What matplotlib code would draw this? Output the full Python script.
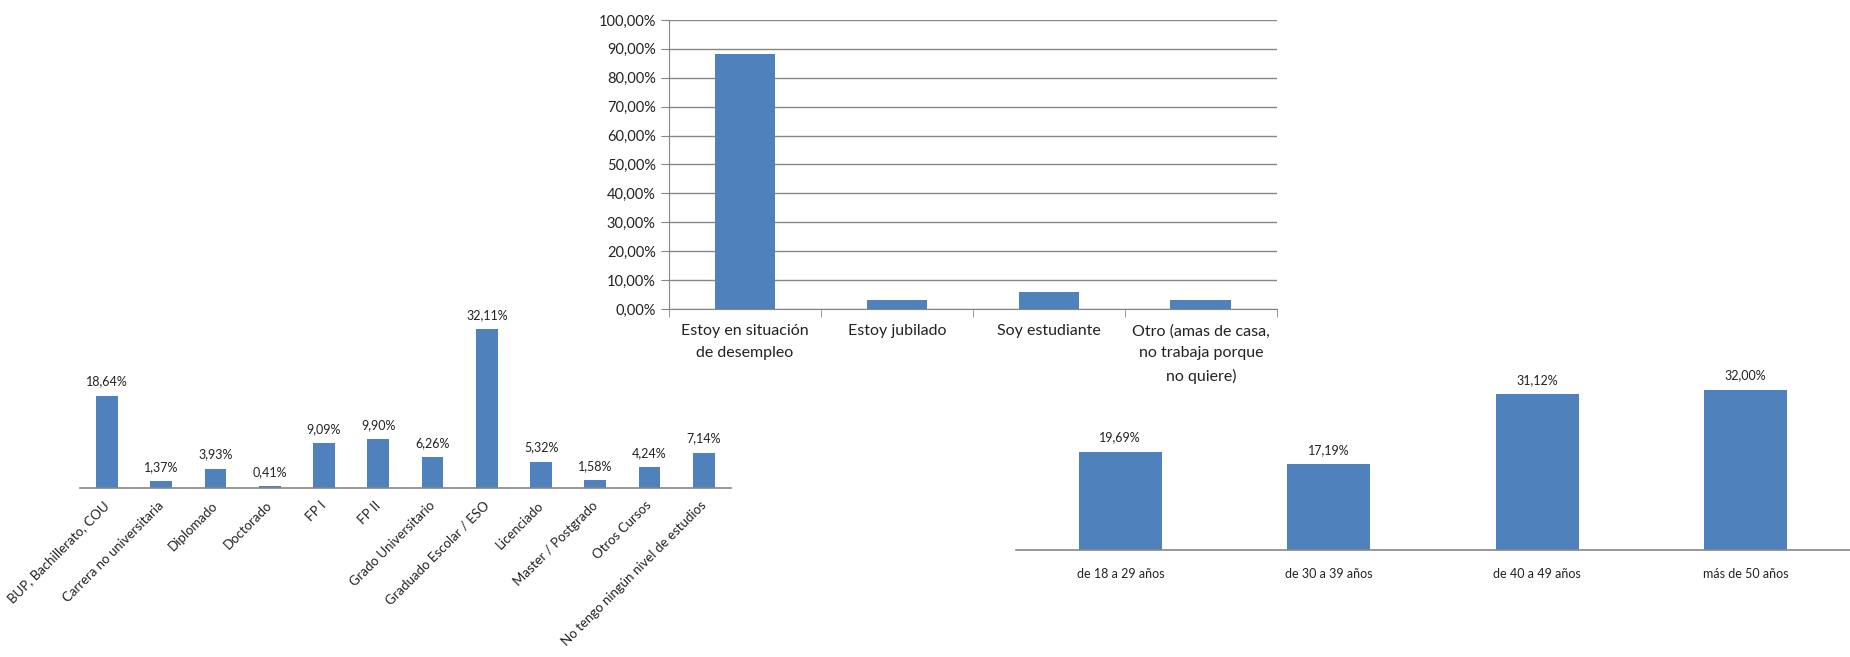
import numpy as np
import matplotlib
matplotlib.use('Agg')
from matplotlib import pyplot as plt
from matplotlib.ticker import FuncFormatter
from matplotlib.transforms import ScaledTranslation

plt.rcParams['font.family'] = ['Lato', 'DejaVu Sans']

# situación laboral
sit_labels = ['Estoy en situación\nde desempleo', 'Estoy jubilado', 'Soy estudiante',
              'Otro (amas de casa,\nno trabaja porque\nno quiere)']
sit_values = [88.24, 2.94, 5.88, 2.94]

# nivel de estudios
est_labels = ['BUP, Bachillerato, COU', 'Carrera no universitaria', 'Diplomado', 'Doctorado',
              'FP I', 'FP II', 'Grado Universitario', 'Graduado Escolar / ESO', 'Licenciado',
              'Master / Postgrado', 'Otros Cursos', 'No tengo ningún nivel de estudios']
est_values = [18.64, 1.37, 3.93, 0.41, 9.09, 9.90, 6.26, 32.11, 5.32, 1.58, 4.24, 7.14]

# edad
edad_labels = ['de 18 a 29 años', 'de 30 a 39 años', 'de 40 a 49 años', 'más de 50 años']
edad_values = [19.69, 17.19, 31.12, 32.00]

BLUE = '#4F81BD'
GRAY = '#868686'
TXT = '#222222'


def pct(v, decimals=2):
    return f'{v:.{decimals}f}%'.replace('.', ',')


def label_bars(ax, x, values, size=8.5):
    for xi, v in zip(x, values):
        ax.annotate(pct(v), (xi, v), xytext=(0, 6), textcoords='offset points',
                    ha='center', va='bottom', fontsize=size, color=TXT)


def plain_axes(ax):
    for s in ['top', 'right', 'left']:
        ax.spines[s].set_visible(False)
    ax.spines['bottom'].set_color(GRAY)
    ax.spines['bottom'].set_linewidth(1.2)
    ax.set_yticks([])
    ax.tick_params(axis='x', length=0, colors=TXT)
    ax.patch.set_visible(False)


fig = plt.figure(figsize=(18.5, 6.57), dpi=100)

# left chart
ax2 = fig.add_axes([0.0432, 0.2572, 0.3519, 0.2637])
x2 = np.arange(len(est_values))
ax2.bar(x2, est_values, width=0.4, color=BLUE)
ax2.set_xlim(-0.5, len(est_values) - 0.5)
ax2.set_ylim(0, 35)
plain_axes(ax2)
ax2.set_xticks(x2)
ax2.set_xticklabels(est_labels, rotation=45, ha='right', rotation_mode='anchor', fontsize=9.5)
ax2.tick_params(axis='x', pad=8)
shift = ScaledTranslation(-0.04, 0, fig.dpi_scale_trans)
for lab in ax2.get_xticklabels():
    lab.set_transform(lab.get_transform() + shift)
label_bars(ax2, x2, est_values, size=9)

# right chart
ax3 = fig.add_axes([0.5492, 0.1629, 0.4508, 0.2664])
x3 = np.arange(len(edad_values))
ax3.bar(x3, edad_values, width=0.4, color=BLUE)
ax3.set_xlim(-0.5, len(edad_values) - 0.5)
ax3.set_ylim(0, 35)
plain_axes(ax3)
ax3.set_xticks(x3)
ax3.set_xticklabels(edad_labels, fontsize=9)
ax3.tick_params(axis='x', pad=13)
label_bars(ax3, x3, edad_values, size=9)

# top chart
ax1 = fig.add_axes([0.3616, 0.5297, 0.3286, 0.4399])
ax1.patch.set_visible(False)
x1 = np.arange(len(sit_values))
ax1.bar(x1, sit_values, width=0.4, color=BLUE, zorder=3)
ax1.set_xlim(-0.5, len(sit_values) - 0.5)
ax1.set_ylim(0, 100)
ax1.set_yticks(np.arange(0, 101, 10))
ax1.yaxis.set_major_formatter(FuncFormatter(lambda v, p: pct(v)))
ax1.grid(axis='y', color=GRAY, linewidth=1.0, zorder=0)
for s in ['top', 'right']:
    ax1.spines[s].set_visible(False)
for s in ['left', 'bottom']:
    ax1.spines[s].set_color(GRAY)
ax1.set_xticks(x1)
ax1.set_xticklabels(sit_labels, fontsize=11.5, color=TXT, linespacing=1.7)
ax1.set_xticks(np.arange(-0.5, len(sit_values)), minor=True)
ax1.tick_params(axis='x', which='major', length=0, pad=11)
ax1.tick_params(axis='x', which='minor', length=6, color=GRAY)
ax1.tick_params(axis='y', length=6, color=GRAY, labelsize=10.5, labelcolor=TXT)

fig.savefig('out.png', dpi=100)
